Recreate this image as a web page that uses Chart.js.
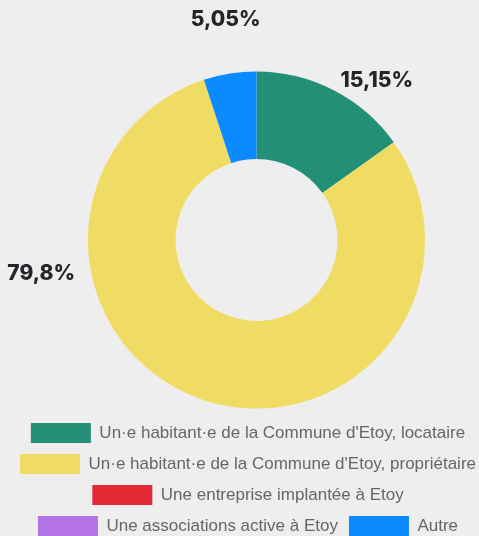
<!DOCTYPE html>
<html>
<head>
<meta charset="utf-8">
<script src="https://cdn.jsdelivr.net/npm/chart.js@4"></script>
<style>
  html, body { margin: 0; padding: 0; background: #eeeeee; overflow: hidden; }
  #wrap { position: relative; width: 479px; height: 546px; }
</style>
</head>
<body>
<div id="wrap"><canvas id="myChart"></canvas></div>
<script>
var labels = [
    "Un\u00b7e habitant\u00b7e de la Commune d'Etoy, locataire",
    "Un\u00b7e habitant\u00b7e de la Commune d'Etoy, propri\u00e9taire",
    "Une entreprise implant\u00e9e \u00e0 Etoy",
    "Une associations active \u00e0 Etoy",
    "Autre"
];
var votes = [15, 79, 0, 0, 5];
var colours = ["#248f77", "#f0dc62", "#e22a37", "#b574e6", "#0b8bff"];

// where the percentage labels sit: angle from the top (deg, clockwise) and distance from centre
var labelAngles = [37, 261, 352];
var labelDistances = [200, 218, 222];

var formatPercent = function(v, total){
    var p = Math.round(v / total * 10000) / 100;
    return String(p).replace(".", ",") + "%";
}

var percentLabels = {
    id: "percentLabels",
    afterLayout: function(chart){
        // doughnut sits a little right of the legend centre
        chart.chartArea.left += 17;
    },
    afterDatasetsDraw: function(chart){
        var ctx = chart.ctx;
        var meta = chart.getDatasetMeta(0);
        var data = chart.data.datasets[0].data;
        var total = data.reduce(function(a, b){ return a + b; }, 0);
        var n = 0;
        ctx.save();
        ctx.font = "800 21px Inter, 'DejaVu Sans', sans-serif";
        ctx.fillStyle = "#232529";
        ctx.textAlign = "center";
        ctx.textBaseline = "middle";
        meta.data.forEach(function(arc, i){
            if (!data[i]) return;
            var a = labelAngles[n] * Math.PI / 180;
            var d = labelDistances[n];
            n++;
            ctx.fillText(formatPercent(data[i], total), arc.x + d * Math.sin(a), arc.y - d * Math.cos(a));
        })
        ctx.restore();
    }
}

var ctx = document.getElementById("myChart");
var myChart = new Chart(ctx, {
    type: 'doughnut',
    data: {
        labels: labels,
        datasets: [{
            data: votes,
            backgroundColor: colours,
            borderWidth: 0,
            hoverOffset: 0
        }]
    },
    options: {
        responsive: true,
        maintainAspectRatio: false,
        animation: false,
        cutout: '48%',
        radius: '98%',
        layout: {
            padding: { top: 68, left: 17, right: 0, bottom: 0 }
        },
        plugins: {
            tooltip: { enabled: false },
            legend: {
                position: 'bottom',
                labels: {
                    boxWidth: 60,
                    boxHeight: 20,
                    padding: 11,
                    color: '#666',
                    font: { size: 17, family: "'Liberation Sans', Arial, sans-serif" }
                }
            }
        }
    },
    plugins: [percentLabels]
})
</script>
</body>
</html>
